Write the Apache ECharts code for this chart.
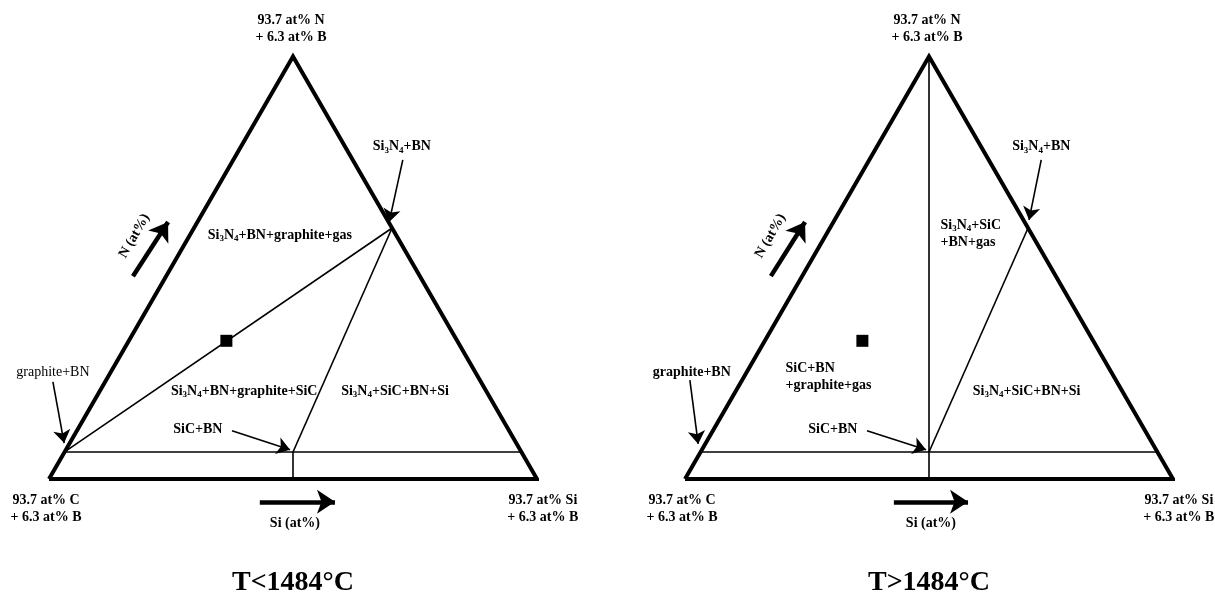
<!DOCTYPE html>
<html>
<head>
<meta charset="utf-8">
<script src="https://cdn.jsdelivr.net/npm/echarts@6/dist/echarts.min.js"></script>
<style>
  html, body { margin: 0; padding: 0; background: #fff; }
  #chart { width: 1215px; height: 597px; }
</style>
</head>
<body>
<div id="chart"></div>
<script>
// Pseudo-ternary section C–Si–N at 6.3 at% B, two temperature ranges.
// Compositions are [N, Si] in percent of the triangle (C = 100 - N - Si).

const panelTitles = ['T<1484°C', 'T>1484°C'];
const vertexLabels = ['93.7 at% N\n+ 6.3 at% B', '93.7 at% C\n+ 6.3 at% B', '93.7 at% Si\n+ 6.3 at% B'];
const axisLabels = ['N (at%)', 'Si (at%)'];

const cornerN = [100, 0];
const cornerC = [0, 0];
const cornerSi = [0, 100];

const nodeGraphiteBN = [6.4, 0];
const nodeSi3N4BN = [59.4, 40.6];
const nodeSiCBN = [6.4, 46.8];
const nodeSiC = [0, 50];
const nodeSiBN = [6.4, 93.6];

const sampleComposition = [32.7, 20.0];

const lowBoundaries = [
  [nodeGraphiteBN, nodeSiBN],
  [nodeGraphiteBN, nodeSi3N4BN],
  [nodeSi3N4BN, nodeSiCBN],
  [nodeSiCBN, nodeSiC]
];
const highBoundaries = [
  [nodeGraphiteBN, nodeSiBN],
  [cornerN, nodeSiCBN],
  [nodeSi3N4BN, nodeSiCBN],
  [nodeSiCBN, nodeSiC]
];

const lowFields = ['Si{s|3}N{s|4}+BN+graphite+gas', 'Si{s|3}N{s|4}+BN+graphite+SiC', 'Si{s|3}N{s|4}+SiC+BN+Si'];
const highFields = ['SiC+BN\n+graphite+gas', 'Si{s|3}N{s|4}+SiC\n+BN+gas', 'Si{s|3}N{s|4}+SiC+BN+Si'];
const pointLabels = ['Si{s|3}N{s|4}+BN', 'graphite+BN', 'SiC+BN'];

// ternary [N, Si] -> plot units (base fraction, height fraction)
function toXY(c) { return [c[1] / 100 + c[0] / 200, c[0] / 100]; }

const FONT = 'Liberation Serif';
const rich = {
  s: { fontFamily: FONT, fontSize: 9, fontWeight: 'bold', color: '#000', padding: [7, 0, 0, 0] }
};

function textItem(pos, text, opts) {
  opts = opts || {};
  return {
    value: pos,
    label: Object.assign({
      show: true,
      formatter: text,
      position: 'inside',
      fontFamily: FONT,
      fontSize: 14,
      fontWeight: 'bold',
      color: '#000',
      opacity: 1,
      textBorderWidth: 0,
      lineHeight: 17,
      align: 'center',
      verticalAlign: 'middle',
      rich: rich
    }, opts)
  };
}

function panel(idx, boundaries, high) {
  const ax = { xAxisIndex: idx, yAxisIndex: idx };
  const series = [];

  // triangle outline
  series.push(Object.assign({
    type: 'line',
    data: [cornerC, cornerSi, cornerN, cornerC].map(toXY),
    symbol: 'none',
    clip: false,
    lineStyle: { color: '#000', width: 4, join: 'miter', miterLimit: 10 }
  }, ax));

  // phase boundaries / tie lines
  series.push(Object.assign({
    type: 'lines',
    coordinateSystem: 'cartesian2d',
    clip: false,
    symbol: ['none', 'none'],
    lineStyle: { color: '#000', width: 1.6, opacity: 1 },
    data: boundaries.map(b => ({ coords: [toXY(b[0]), toXY(b[1])] }))
  }, ax));

  // sample composition
  series.push(Object.assign({
    type: 'scatter',
    symbol: 'rect',
    symbolSize: 12,
    clip: false,
    itemStyle: { color: '#000', opacity: 1 },
    data: [toXY(sampleComposition)]
  }, ax));

  // thin pointer arrows
  const pointers = high ? [
    [[0.730, 0.755], [0.705, 0.613]],
    [[0.010, 0.234], [0.027, 0.083]],
    [[0.373, 0.114], [0.494, 0.069]]
  ] : [
    [[0.725, 0.755], [0.697, 0.608]],
    [[0.008, 0.230], [0.031, 0.085]],
    [[0.375, 0.114], [0.494, 0.069]]
  ];
  series.push(Object.assign({
    type: 'lines',
    coordinateSystem: 'cartesian2d',
    clip: false,
    symbol: ['none', 'arrow'],
    symbolSize: [9, 13],
    lineStyle: { color: '#000', width: 1.6, opacity: 1 },
    data: pointers.map(p => ({ coords: p }))
  }, ax));

  // heavy direction arrows along N and Si
  series.push(Object.assign({
    type: 'lines',
    coordinateSystem: 'cartesian2d',
    clip: false,
    symbol: ['none', 'arrow'],
    symbolSize: [15, 18],
    lineStyle: { color: '#000', width: 4.5, opacity: 1 },
    data: [
      { coords: [[0.172 + (high ? 0.004 : 0), 0.480], [0.244 + (high ? 0.002 : 0), 0.608]] },
      { coords: [[0.432 - (high ? 0.004 : 0), -0.054], [0.586 - (high ? 0.006 : 0), -0.054]] }
    ]
  }, ax));

  // text
  const fields = high ? highFields : lowFields;
  const texts = [
    textItem([0.496, 1.065], vertexLabels[0]),
    textItem([-0.006, -0.071], vertexLabels[1]),
    textItem([1.012, -0.071], vertexLabels[2]),
    textItem([0.175, 0.575], axisLabels[0], { rotate: 60, fontSize: 14 }),
    textItem([0.504, -0.106], axisLabels[1]),
    textItem([0.5, -0.246], panelTitles[idx], { fontSize: 28 }),
    textItem(high ? [0.730, 0.786] : [0.723, 0.786], pointLabels[0]),
    textItem(high ? [0.014, 0.253] : [0.008, 0.253], pointLabels[1],
      high ? {} : { fontWeight: 'normal' }),
    textItem(high ? [0.303, 0.118] : [0.305, 0.118], pointLabels[2])
  ];
  if (high) {
    texts.push(textItem([0.205, 0.241], fields[0], { position: 'right', distance: 0, align: 'left' }));
    texts.push(textItem([0.5225, 0.580], fields[1], { position: 'right', distance: 0, align: 'left' }));
    texts.push(textItem([0.700, 0.208], fields[2]));
  } else {
    texts.push(textItem([0.473, 0.577], fields[0]));
    texts.push(textItem([0.400, 0.208], fields[1]));
    texts.push(textItem([0.709, 0.208], fields[2]));
  }
  series.push(Object.assign({
    type: 'scatter',
    symbolSize: 1,
    clip: false,
    itemStyle: { color: 'rgba(0,0,0,0)', opacity: 1 },
    data: texts
  }, ax));

  return series;
}

const chart = echarts.init(document.getElementById('chart'), null, { renderer: 'canvas' });
const gridBase = { top: 56.4, width: 488, height: 422.6 };
chart.setOption({
  backgroundColor: '#fff',
  animation: false,
  grid: [
    Object.assign({ left: 49 }, gridBase),
    Object.assign({ left: 685 }, gridBase)
  ],
  xAxis: [0, 1].map(i => ({ type: 'value', gridIndex: i, min: 0, max: 1, show: false })),
  yAxis: [0, 1].map(i => ({ type: 'value', gridIndex: i, min: 0, max: 1, show: false })),
  series: [].concat(panel(0, lowBoundaries, false), panel(1, highBoundaries, true))
});
</script>
</body>
</html>
